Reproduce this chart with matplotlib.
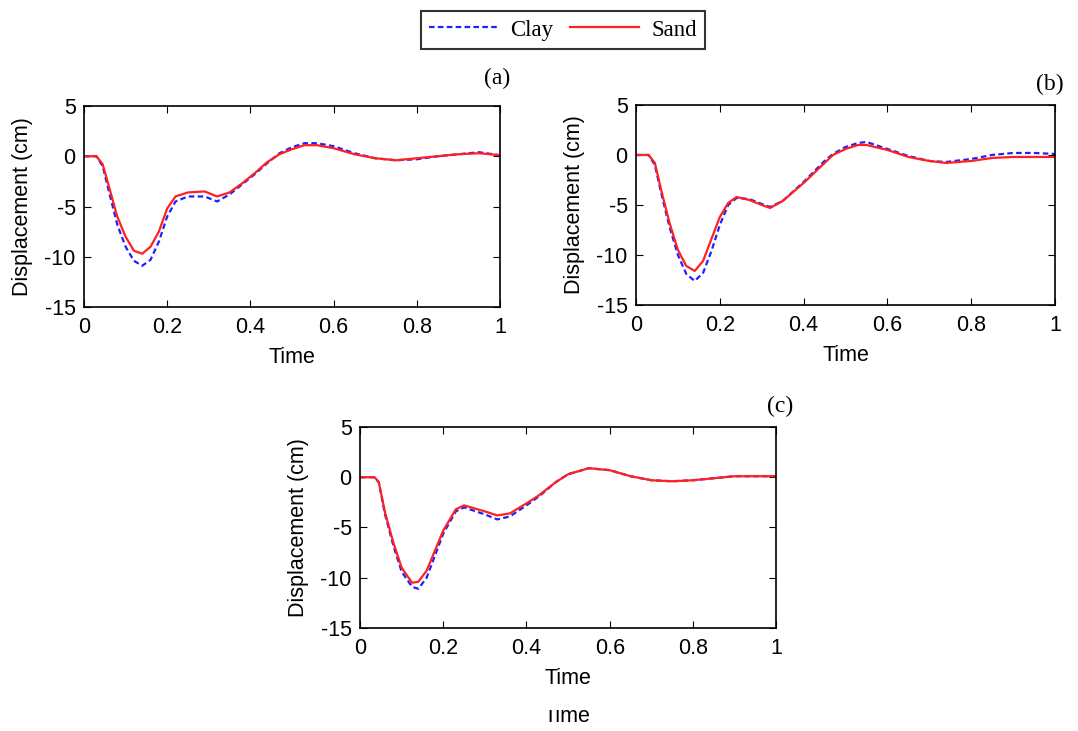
import matplotlib.pyplot as plt
from matplotlib.patches import Rectangle

# ---- data ----
time_a = [0, 0.03, 0.045, 0.06, 0.08, 0.1, 0.12, 0.14, 0.16, 0.18, 0.2, 0.22, 0.25, 0.29,
          0.32, 0.35, 0.38, 0.41, 0.44, 0.47, 0.5, 0.53, 0.56, 0.6, 0.65, 0.7, 0.75, 0.8,
          0.85, 0.9, 0.95, 1.0]
clay_a = [0, 0, -1.0, -3.5, -6.8, -9.0, -10.4, -10.9, -10.3, -8.5, -6.0, -4.5, -4.0, -4.0,
          -4.5, -3.8, -2.8, -1.8, -0.7, 0.3, 0.9, 1.3, 1.3, 1.0, 0.3, -0.2, -0.4, -0.3,
          0.0, 0.2, 0.4, 0.1]
sand_a = [0, 0, -0.8, -3.0, -6.0, -8.0, -9.4, -9.7, -9.0, -7.5, -5.2, -4.0, -3.6, -3.5,
          -4.0, -3.6, -2.7, -1.7, -0.6, 0.2, 0.7, 1.1, 1.1, 0.8, 0.2, -0.2, -0.4, -0.2,
          0.0, 0.2, 0.3, 0.1]

time_b = [0, 0.03, 0.045, 0.06, 0.08, 0.1, 0.12, 0.14, 0.16, 0.18, 0.2, 0.22, 0.24, 0.27,
          0.3, 0.32, 0.35, 0.4, 0.45, 0.47, 0.5, 0.53, 0.55, 0.6, 0.65, 0.7, 0.74, 0.8,
          0.85, 0.9, 0.95, 1.0]
clay_b = [0, 0, -1.0, -3.8, -7.2, -10.0, -11.9, -12.6, -11.8, -9.6, -7.0, -5.0, -4.3, -4.4,
          -4.9, -5.2, -4.6, -2.7, -0.6, 0.1, 0.8, 1.2, 1.3, 0.6, -0.1, -0.6, -0.7, -0.4,
          0.0, 0.2, 0.2, 0.1]
sand_b = [0, 0, -0.8, -3.5, -6.8, -9.5, -11.1, -11.6, -10.6, -8.4, -6.2, -4.8, -4.2, -4.5,
          -5.0, -5.3, -4.6, -2.8, -0.8, 0.0, 0.6, 1.0, 1.0, 0.5, -0.2, -0.6, -0.8, -0.6,
          -0.3, -0.2, -0.2, -0.2]

time_c = [0, 0.035, 0.045, 0.06, 0.08, 0.1, 0.125, 0.14, 0.16, 0.18, 0.2, 0.23, 0.25, 0.3,
          0.33, 0.36, 0.4, 0.43, 0.47, 0.5, 0.55, 0.6, 0.65, 0.7, 0.75, 0.8, 0.85, 0.9, 1.0]
clay_c = [0, 0, -0.5, -3.7, -6.8, -9.4, -10.9, -11.1, -10.0, -7.8, -5.6, -3.4, -3.0, -3.7,
          -4.2, -3.9, -2.8, -1.9, -0.5, 0.3, 0.9, 0.7, 0.1, -0.3, -0.4, -0.3, -0.1, 0.1, 0.1]
sand_c = [0, 0, -0.5, -3.5, -6.5, -9.0, -10.5, -10.4, -9.3, -7.3, -5.3, -3.2, -2.8, -3.4,
          -3.8, -3.6, -2.6, -1.8, -0.5, 0.3, 0.9, 0.7, 0.1, -0.3, -0.4, -0.3, -0.1, 0.1, 0.1]

panel_labels = ["(a)", "(b)", "(c)"]
x_ticks = [0, 0.2, 0.4, 0.6, 0.8, 1]
x_tick_labels = ["0", "0.2", "0.4", "0.6", "0.8", "1"]
y_ticks = [-15, -10, -5, 0, 5]

plt.rcParams['font.family'] = ['Liberation Sans', 'DejaVu Sans']
plt.rcParams['axes.unicode_minus'] = False

fig = plt.figure(figsize=(10.78, 7.31), dpi=100)

positions = [
    [0.0779, 0.580, 0.3859, 0.275],
    [0.590, 0.5828, 0.3887, 0.2736],
    [0.334, 0.1409, 0.386, 0.275],
]
label_xy = [(497 / 1078, 1 - 78 / 731), (1050 / 1078, 1 - 84 / 731), (780 / 1078, 1 - 406 / 731)]
series = [(time_a, clay_a, sand_a), (time_b, clay_b, sand_b), (time_c, clay_c, sand_c)]

handles = None
for pos, (t, clay, sand), lab, lxy in zip(positions, series, panel_labels, label_xy):
    ax = fig.add_axes(pos)
    h1, = ax.plot(t, clay, color='#2020ff', linestyle=(0, (2.5, 1.5)), linewidth=1.6, label='Clay')
    h2, = ax.plot(t, sand, color='#ff2020', linestyle='-', linewidth=1.6, label='Sand')
    handles = [h1, h2]
    ax.set_xlim(0, 1)
    ax.set_ylim(-15, 5)
    ax.set_xticks(x_ticks)
    ax.set_xticklabels(x_tick_labels)
    ax.set_yticks(y_ticks)
    ax.tick_params(direction='in', top=True, right=True, labelsize=15.5, length=5)
    ax.tick_params(axis='x', pad=7)
    ax.tick_params(axis='y', pad=6)
    ax.set_xlabel("Time", fontsize=15.5, labelpad=7)
    ax.set_ylabel("Displacement (cm)", fontsize=15.5, labelpad=8)
    for sp in ax.spines.values():
        sp.set_linewidth(1.2)
    fig.text(lxy[0], lxy[1], lab, ha='center', va='center', fontsize=17,
             family=['Liberation Serif', 'DejaVu Serif'])

leg = fig.legend(handles, ['Clay', 'Sand'], loc='center', ncol=2,
                 bbox_to_anchor=(563 / 1078, 1 - 30 / 731),
                 prop={'family': 'Liberation Serif', 'size': 16.5},
                 frameon=True, fancybox=False, edgecolor='black',
                 handlelength=3.0, columnspacing=0.7, handletextpad=0.55,
                 borderpad=0.35)
leg.get_frame().set_linewidth(1.5)

# clipped leftover axis label at the bottom of the reference
fig.text(567 / 1078, 1 - 717 / 731, "Time", ha='center', va='center', fontsize=15.5, zorder=3)
fig.add_artist(Rectangle((0.45, 1 - 710 / 731), 0.2, 0.03, transform=fig.transFigure,
                         facecolor='white', edgecolor='none', zorder=10))

fig.savefig("out.png", dpi=100)
